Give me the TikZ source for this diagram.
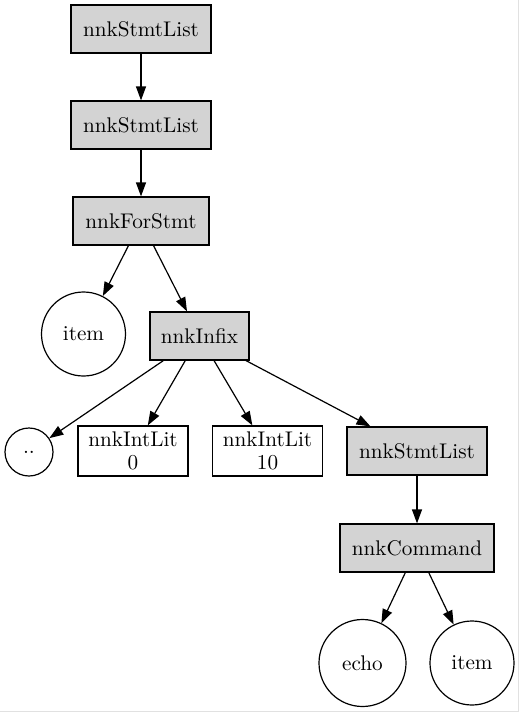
\documentclass[tikz,border=0pt]{standalone}
\usepackage{xcolor}
\usepackage{tikz}
\usetikzlibrary{arrows.meta}

\definecolor{boxgray}{RGB}{211,211,211}
\definecolor{edgegray}{RGB}{225,225,225}

\begin{document}
\begin{tikzpicture}[x=0.5pt,y=-0.5pt,
		every node/.style={font=\fontsize{10.6}{11.6}\selectfont, line width=0.6pt, inner sep=0pt, align=center},
		ast/.style={draw, fill=boxgray, minimum height=24pt},
		lit/.style={draw, minimum height=25pt, minimum width=55pt},
		leaf/.style={draw, circle},
		edge/.style={-{Triangle[length=7pt,width=5pt]}, line width=0.6pt}]
				\useasboundingbox (0,0) rectangle (520,713);
				\draw[edgegray, line width=0.5pt] (518,0) -- (518,711) -- (0,711);
				
				% spine
				\node[ast, minimum width=70pt] (S1) at (141,29) {nnkStmtList};
				\node[ast, minimum width=70pt] (S2) at (141,125) {nnkStmtList};
				\node[ast, minimum width=68pt] (F) at (141,221) {nnkForStmt};
				
				% for loop
				\node[leaf, minimum size=42pt] (I1) at (83.5,334) {item};
				\node[ast, minimum width=49.5pt] (X) at (199.5,336) {nnkInfix};
				
				% infix operands
				\node[leaf, minimum size=24pt] (D) at (29,452) {..};
				\node[lit] (L0) at (133,451) {nnkIntLit\\0};
				\node[lit] (L10) at (267.5,451) {nnkIntLit\\10};
				\node[ast, minimum width=70pt] (S3) at (417,451) {nnkStmtList};
				
				% body
				\node[ast, minimum width=77pt] (C) at (417,548) {nnkCommand};
				\node[leaf, minimum size=43.5pt] (E) at (362.5,663) {echo};
				\node[leaf, minimum size=42pt] (I2) at (472,663) {item};
				
				\foreach \x/\y in
				{S1/S2, S2/F, F/I1, F/X, X/D, X/L0, X/L10, X/S3, S3/C, C/E, C/I2}{
					\draw[edge] (\x) -- (\y);
				}
			\end{tikzpicture}
\end{document}
